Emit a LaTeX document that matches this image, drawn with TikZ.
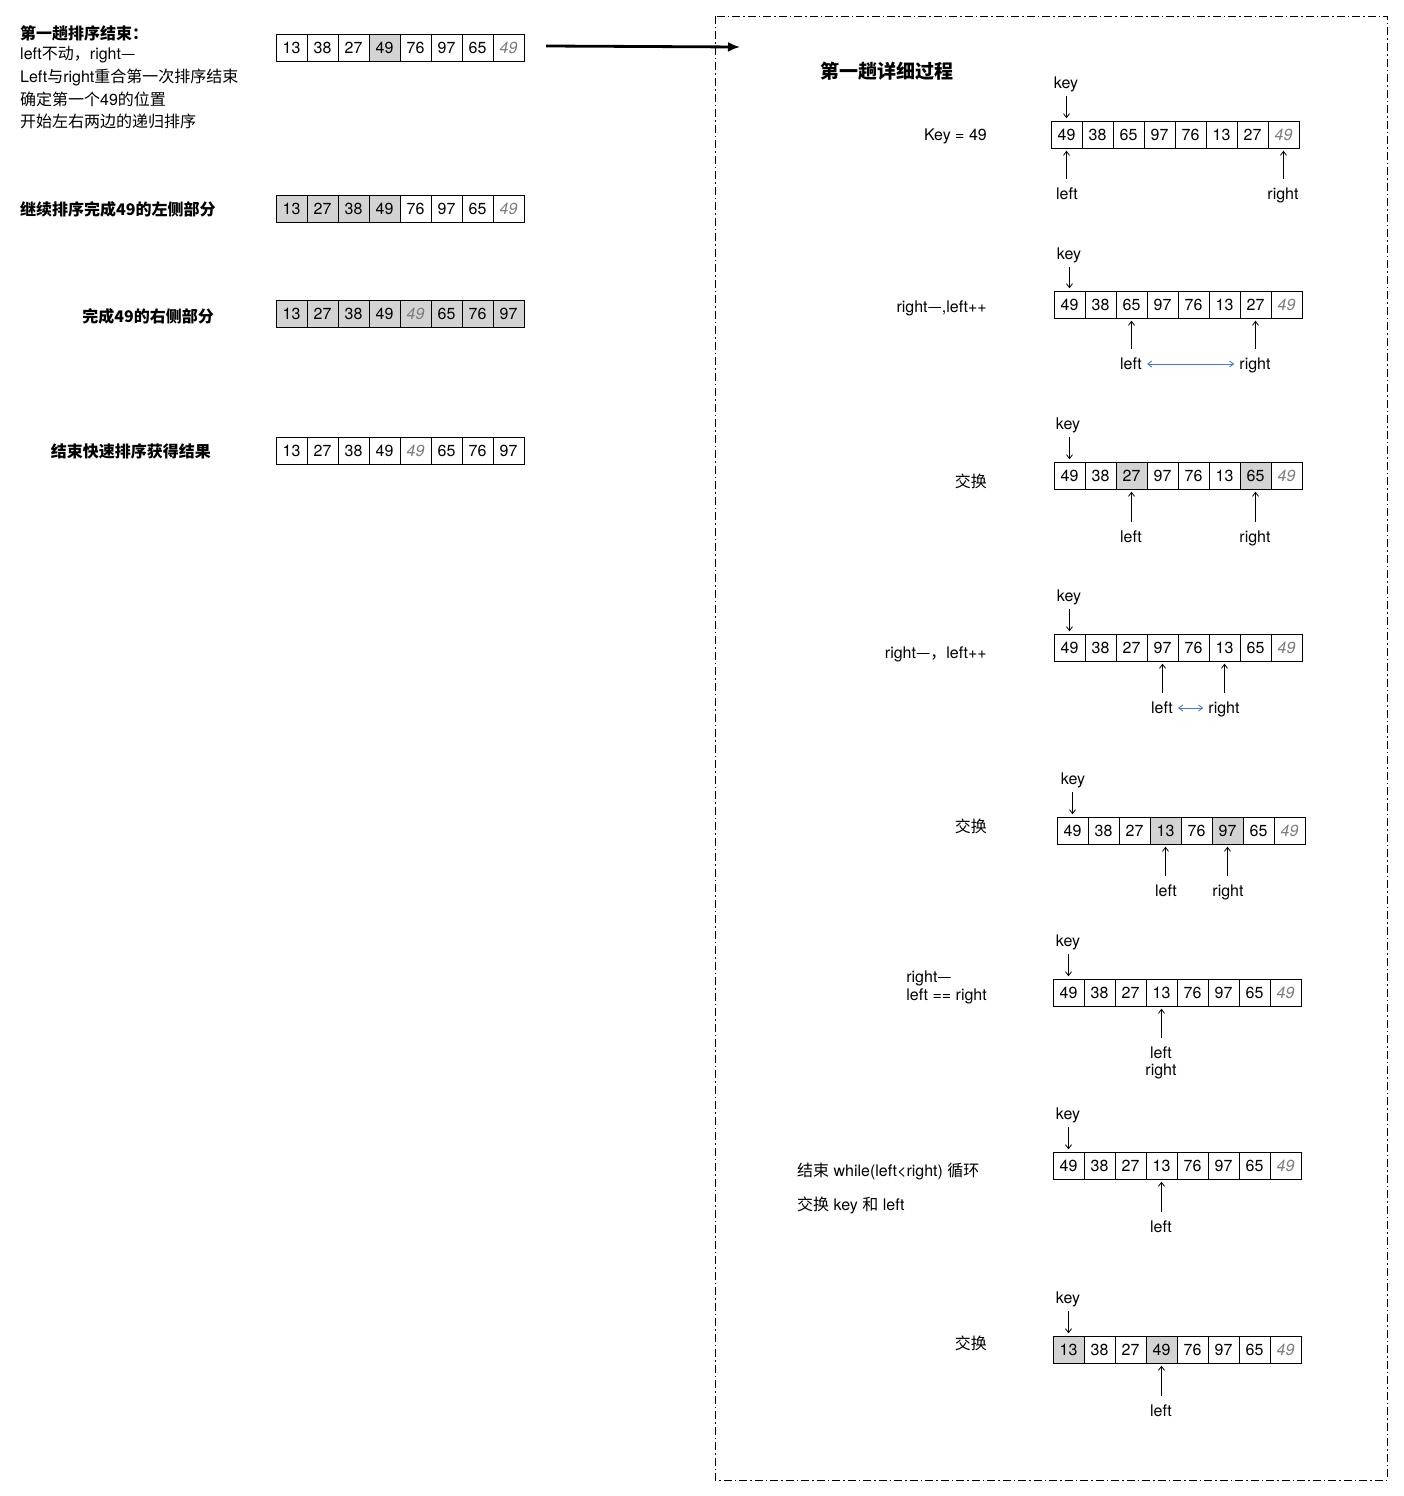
\documentclass[tikz,border=0pt]{standalone}
\usepackage{fontspec}
\setmainfont{TeX Gyre Heros}
\newfontfamily\cjk{Noto Sans CJK SC}
\usetikzlibrary{arrows.meta}
\definecolor{cellgray}{RGB}{211,211,211}
\definecolor{ghost}{RGB}{125,125,125}
\definecolor{linkblue}{RGB}{70,120,220}
\newcommand\cellrow[4]{%
  \foreach \v/\t [count=\i] in {#4}{%
    \edef\mk{\noexpand\node[cell\t] (#1-\i) at ({#2+(\i-0.5)*31},#3) {\v};}\mk}}
\begin{document}
\begin{tikzpicture}[x=1pt,y=-1pt,
  every node/.style={font=\fontsize{16}{19}\selectfont, inner sep=0pt},
  cellbase/.style={draw, line width=0.9pt, minimum width=31pt, minimum height=26.5pt, inner sep=0pt},
  celln/.style={cellbase, fill=white},
  cellg/.style={cellbase, fill=cellgray},
  celli/.style={cellbase, fill=white, text=ghost, font=\fontsize{16}{19}\selectfont\itshape},
  cellj/.style={cellbase, fill=cellgray, text=ghost, font=\fontsize{16}{19}\selectfont\itshape},
  ptr/.style={-{Straight Barb[length=4pt,width=6pt]}, line width=0.8pt},
  blu/.style={{Straight Barb[length=4pt,width=6pt]}-{Straight Barb[length=4pt,width=6pt]}, line width=0.9pt, draw=linkblue},
  bigarrow/.style={-{Latex[length=12pt,width=10pt]}, line width=2.8pt},
  boldcjk/.style={font=\fontsize{16}{19}\selectfont\cjk\bfseries},
  plaincjk/.style={font=\fontsize{16}{19}\selectfont\cjk},
  steplabel/.style={anchor=east},
]
\fill[white] (0,0) rectangle (1403,1496);
\useasboundingbox (0,0) rectangle (1403,1496);

% ---------- left column ----------
\node[boldcjk, anchor=west] (t1) at (20,33) {第一趟排序结束：};
\node[anchor=west] (t2) at (20,55) {left{\cjk 不动，}right{\cjk —}};
\node[anchor=west] (t3) at (20,77) {Left{\cjk 与}right{\cjk 重合第一次排序结束}};
\node[anchor=west] (t4) at (20,99) {{\cjk 确定第一个}49{\cjk 的位置}};
\node[plaincjk, anchor=west] (t5) at (20,121) {开始左右两边的递归排序};

\cellrow{A}{276}{48}{13/n,38/n,27/n,49/g,76/n,97/n,65/n,49/i}
\node[boldcjk, anchor=west] (lb) at (20,209) {继续排序完成49的左侧部分};
\cellrow{B}{276}{209}{13/g,27/g,38/g,49/g,76/n,97/n,65/n,49/i}
\node[boldcjk, anchor=east] (lc) at (214,316) {完成49的右侧部分};
\cellrow{C}{276}{314}{13/g,27/g,38/g,49/g,49/j,65/g,76/g,97/g}
\node[boldcjk, anchor=east] (ld) at (211,451) {结束快速排序获得结果};
\cellrow{D}{276}{451}{13/n,27/n,38/n,49/n,49/i,65/n,76/n,97/n}

\coordinate (ms) at (546,46);
\coordinate (me) at (740,47);
\draw[bigarrow] (ms) -- (me);

% ---------- detail panel ----------
\draw[line width=0.9pt, dash pattern=on 8pt off 3pt on 1.5pt off 3pt] (715,16) rectangle (1387,1480);
\node[font=\fontsize{19}{22}\selectfont\cjk\bfseries] (title) at (887,71) {第一趟详细过程};

% step 1
\node[steplabel] (s1) at (987,136) {Key = 49};
\cellrow{R1}{1051}{135}{49/n,38/n,65/n,97/n,76/n,13/n,27/n,49/i}
\node (k1) at (1066,84) {key};
\draw[ptr, shorten <=4pt, shorten >=3pt] (R1-1.north |- k1.south) -- (R1-1.north);
\node (l1) at (1067,194) {left};
\node (rt1) at (1283,195) {right};
\draw[ptr, shorten <=9pt, shorten >=2pt] (R1-1.south |- l1.north) -- (R1-1.south);
\draw[ptr, shorten <=9pt, shorten >=2pt] (R1-8.south |- l1.north) -- (R1-8.south);

% step 2
\node[steplabel] (s2) at (987,308) {right{\cjk —},left++};
\cellrow{R2}{1054}{305}{49/n,38/n,65/n,97/n,76/n,13/n,27/n,49/i}
\node (k2) at (1069,255) {key};
\draw[ptr, shorten <=4pt, shorten >=3pt] (R2-1.north |- k2.south) -- (R2-1.north);
\node (l2) at (1131,364) {left};
\node (rt2) at (1255,365) {right};
\draw[ptr, shorten <=9pt, shorten >=2pt] (R2-3.south |- l2.north) -- (R2-3.south);
\draw[ptr, shorten <=9pt, shorten >=2pt] (R2-7.south |- l2.north) -- (R2-7.south);
\draw[blu, shorten <=5pt, shorten >=5pt] (l2.east) -- (l2.east -| rt2.west);

% step 3
\node[plaincjk, steplabel] (s3) at (987,481) {交换};
\cellrow{R3}{1054}{476}{49/n,38/n,27/g,97/n,76/n,13/n,65/g,49/i}
\node (k3) at (1068,425) {key};
\draw[ptr, shorten <=4pt, shorten >=3pt] (R3-1.north |- k3.south) -- (R3-1.north);
\node (l3) at (1131,537) {left};
\node (rt3) at (1255,538) {right};
\draw[ptr, shorten <=9pt, shorten >=2pt] (R3-3.south |- l3.north) -- (R3-3.south);
\draw[ptr, shorten <=9pt, shorten >=2pt] (R3-7.south |- l3.north) -- (R3-7.south);

% step 4
\node[steplabel] (s4) at (987,654) {right{\cjk —，}left++};
\cellrow{R4}{1054}{648}{49/n,38/n,27/n,97/n,76/n,13/n,65/n,49/i}
\node (k4) at (1069,597) {key};
\draw[ptr, shorten <=4pt, shorten >=3pt] (R4-1.north |- k4.south) -- (R4-1.north);
\node (l4) at (1162,708) {left};
\node (rt4) at (1224,709) {right};
\draw[ptr, shorten <=9pt, shorten >=2pt] (R4-4.south |- l4.north) -- (R4-4.south);
\draw[ptr, shorten <=9pt, shorten >=2pt] (R4-6.south |- l4.north) -- (R4-6.south);
\draw[blu, shorten <=5pt, shorten >=5pt] (l4.east) -- (l4.east -| rt4.west);

% step 5
\node[plaincjk, steplabel] (s5) at (987,826) {交换};
\cellrow{R5}{1057}{831}{49/n,38/n,27/n,13/g,76/n,97/g,65/n,49/i}
\node (k5) at (1073,780) {key};
\draw[ptr, shorten <=4pt, shorten >=3pt] (R5-1.north |- k5.south) -- (R5-1.north);
\node (l5) at (1166,891) {left};
\node (rt5) at (1228,892) {right};
\draw[ptr, shorten <=9pt, shorten >=2pt] (R5-4.south |- l5.north) -- (R5-4.south);
\draw[ptr, shorten <=9pt, shorten >=2pt] (R5-6.south |- l5.north) -- (R5-6.south);

% step 6
\node[steplabel, align=left, font=\fontsize{16}{18}\selectfont] (s6) at (987,987) {right{\cjk —}\\left == right};
\cellrow{R6}{1053}{993}{49/n,38/n,27/n,13/n,76/n,97/n,65/n,49/i}
\node (k6) at (1068,942) {key};
\draw[ptr, shorten <=4pt, shorten >=3pt] (R6-1.north |- k6.south) -- (R6-1.north);
\node[align=center, font=\fontsize{16}{17}\selectfont] (l6) at (1161,1063) {left\\right};
\draw[ptr, shorten <=9pt, shorten >=2pt] (R6-4.south |- l6.north) -- (R6-4.south);

% step 7
\node[anchor=west] (s7a) at (797,1172) {{\cjk 结束} while(left<right) {\cjk 循环}};
\node[anchor=west] (s7b) at (797,1205) {{\cjk 交换} key {\cjk 和} left};
\cellrow{R7}{1053}{1166}{49/n,38/n,27/n,13/n,76/n,97/n,65/n,49/i}
\node (k7) at (1068,1115) {key};
\draw[ptr, shorten <=4pt, shorten >=3pt] (R7-1.north |- k7.south) -- (R7-1.north);
\node (l7) at (1161,1227) {left};
\draw[ptr, shorten <=9pt, shorten >=2pt] (R7-4.south |- l7.north) -- (R7-4.south);

% step 8
\node[plaincjk, steplabel] (s8) at (987,1343) {交换};
\cellrow{R8}{1053}{1350}{13/g,38/n,27/n,49/g,76/n,97/n,65/n,49/i}
\node (k8) at (1068,1299) {key};
\draw[ptr, shorten <=4pt, shorten >=3pt] (R8-1.north |- k8.south) -- (R8-1.north);
\node (l8) at (1161,1411) {left};
\draw[ptr, shorten <=9pt, shorten >=2pt] (R8-4.south |- l8.north) -- (R8-4.south);
\end{tikzpicture}
\end{document}
